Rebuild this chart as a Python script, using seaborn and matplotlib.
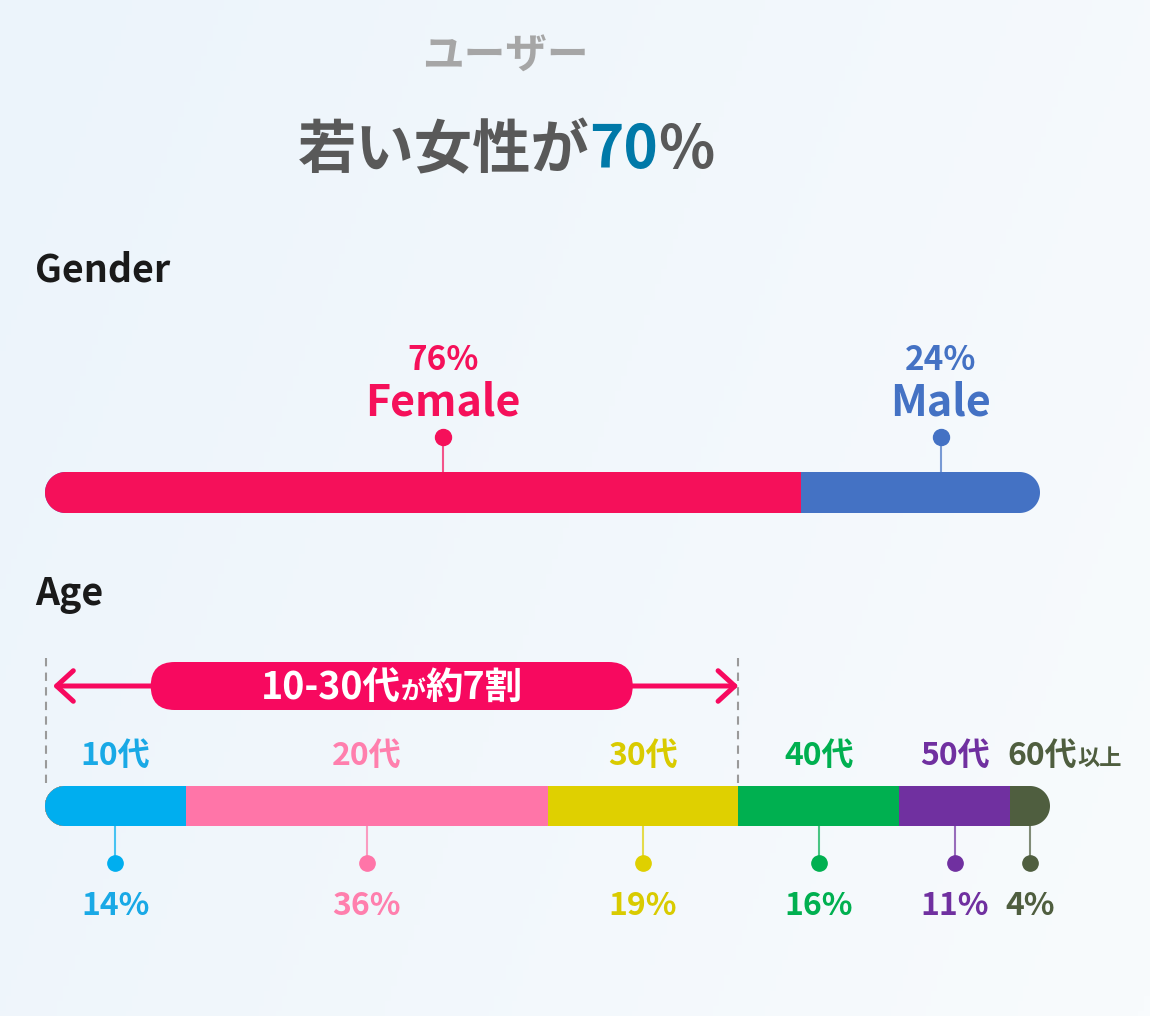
import numpy as np
import pandas as pd
import matplotlib.pyplot as plt
import seaborn as sns
from matplotlib.patches import FancyBboxPatch
from matplotlib.path import Path
from matplotlib.colors import LinearSegmentedColormap

# データ
title = "ユーザー"
headline_parts = ["若い女性が", "70", "%"]
gender_names = ["Female", "Male"]
gender_pct = [76, 24]
gender_colors = ["#F5105A", "#4472C4"]
age_names = ["10代", "20代", "30代", "40代", "50代", "60代"]
age_last_suffix = "以上"
age_pct = [14, 36, 19, 16, 11, 4]
age_colors = ["#00AEEF", "#FF75A8", "#DFD000", "#00B050", "#7030A0", "#4F5E3F"]
age_text_colors = ["#19A9E6", "#FF7FAD", "#D9CB00", "#00B050", "#7030A0", "#4F5E3F"]
young_groups = 3  # 10-30代
young_parts = ["10-30代", "が", "約7割"]

sns.set_theme(style="white")
plt.rcParams['font.family'] = ['Noto Sans CJK JP', 'DejaVu Sans']
plt.rcParams['font.weight'] = 'bold'

W, H = 1150, 1016
fig = plt.figure(figsize=(W / 100, H / 100), dpi=100)
bg = fig.add_axes([0, 0, 1, 1])
bg.axis("off")

# 背景のグラデーション
yy, xx = np.mgrid[0:1:200j, 0:1:200j]
cmap = LinearSegmentedColormap.from_list("bg", ["#ECF4FB", "#F8FBFD"])
bg.imshow(0.75 * xx + 0.25 * yy, cmap=cmap, extent=[0, W, H, 0], aspect="auto", zorder=0)
bg.set_xlim(0, W)
bg.set_ylim(H, 0)
bg.set_autoscale_on(False)

renderer = fig.canvas.get_renderer()


def chain(parts, x, y, ha="center"):
    # 色やサイズの違う文字列を横に並べる
    texts = [bg.text(0, y, s, fontsize=fs, color=c, fontweight="bold", va="baseline", ha="left")
             for s, fs, c in parts]
    widths = [t.get_window_extent(renderer).width for t in texts]
    start = x - sum(widths) / 2 if ha == "center" else x
    for t, w in zip(texts, widths):
        t.set_x(start)
        start += w
    return texts


def pill_path(left, right, top, bottom):
    # 両端が半円のカプセル形 (ピクセル座標)
    r = (bottom - top) / 2
    mid = (top + bottom) / 2
    a = np.linspace(-np.pi / 2, np.pi / 2, 60)
    right_arc = np.column_stack([right - r + r * np.cos(a), mid + r * np.sin(a)])
    left_arc = np.column_stack([left + r - r * np.cos(a), mid - r * np.sin(a)])
    return Path(np.vstack([right_arc, left_arc, right_arc[:1]]), closed=True)


def stacked_bar(values, colors, left, right, top, bottom):
    ax = fig.add_axes([left / W, 1 - bottom / H, (right - left) / W, (bottom - top) / H])
    ends = np.cumsum(values)
    df = pd.DataFrame({"row": "all", "end": ends, "color": colors})
    for _, r in df[::-1].iterrows():
        sns.barplot(x=[r["end"]], y=[r["row"]], orient="h", color=r["color"], saturation=1,
                    width=1, linewidth=0, errorbar=None, ax=ax)
    ax.set_xlim(0, ends[-1])
    ax.set_ylim(0.5, -0.5)
    ax.axis("off")
    clip = pill_path(left, right, top, bottom)
    for p in ax.patches:
        p.set_clip_path(clip, bg.transData)
    return ends, lambda v: left + v / ends[-1] * (right - left)


# タイトル
bg.text(505, 69, title, fontsize=30, color="#A6A6A6", ha="center", va="baseline", fontweight="bold")
chain([(headline_parts[0], 42, "#595959"), (headline_parts[1], 42, "#0079A8"),
       (headline_parts[2], 42, "#595959")], 506, 168)

# Gender
bg.text(35, 281, "Gender", fontsize=27, color="#1A1A1A", va="baseline", fontweight="bold")
g_ends, px_g = stacked_bar(gender_pct, gender_colors, 45, 1040, 472, 513)
for name, v, end, c in zip(gender_names, gender_pct, g_ends, gender_colors):
    cx = px_g(end - v / 2) + 20
    bg.text(cx, 370, f"{v}%", fontsize=24, color=c, ha="center", va="baseline")
    bg.text(cx, 415, name, fontsize=31, color=c, ha="center", va="baseline")
    bg.plot([cx, cx], [445, 472], color=c, lw=1.5, alpha=0.7)
    bg.plot(cx, 437, "o", ms=11.5, color=c)

# Age
bg.text(35, 605, "Age", fontsize=27, color="#1A1A1A", va="baseline", fontweight="bold")
a_ends, px_a = stacked_bar(age_pct, age_colors, 45, 1050, 786, 826)
for i, (name, v, end, c, tc) in enumerate(zip(age_names, age_pct, a_ends, age_colors, age_text_colors)):
    cx = px_a(end - v / 2)
    if i == len(age_names) - 1:
        chain([(name, 23, tc), (age_last_suffix, 16, tc)], px_a(end - v) - 2, 765, ha="left")
    else:
        bg.text(cx, 765, name, fontsize=23, color=tc, ha="center", va="baseline")
    bg.plot([cx, cx], [826, 856], color=c, lw=1.5, alpha=0.7)
    bg.plot(cx, 863, "o", ms=11, color=c)
    bg.text(cx, 915, f"{v}%", fontsize=23, color=tc, ha="center", va="baseline")

# 10-30代の範囲
share_end = a_ends[young_groups - 1]
x0, x1 = px_a(0) + 1, px_a(share_end)
for x in (x0, x1):
    bg.plot([x, x], [658, 786], color="#9A9A9A", lw=1.5, ls=(0, (4, 3)))
pink = "#F7095F"
bg.annotate("", xy=(x1, 686), xytext=(x0, 686),
            arrowprops=dict(arrowstyle="<->,head_length=0.6,head_width=0.55", color=pink, lw=3.6,
                            shrinkA=5, shrinkB=0, mutation_scale=20))
pcx = px_a(share_end / 2)
bg.add_patch(FancyBboxPatch((pcx - 241, 662), 482, 48, boxstyle="round,pad=0,rounding_size=24",
                            facecolor=pink, edgecolor="none", zorder=3))
for t in chain([(young_parts[0], 27, "white"), (young_parts[1], 18, "white"),
                (young_parts[2], 27, "white")], pcx, 699):
    t.set_zorder(4)

fig.savefig("out.png", dpi=100)
